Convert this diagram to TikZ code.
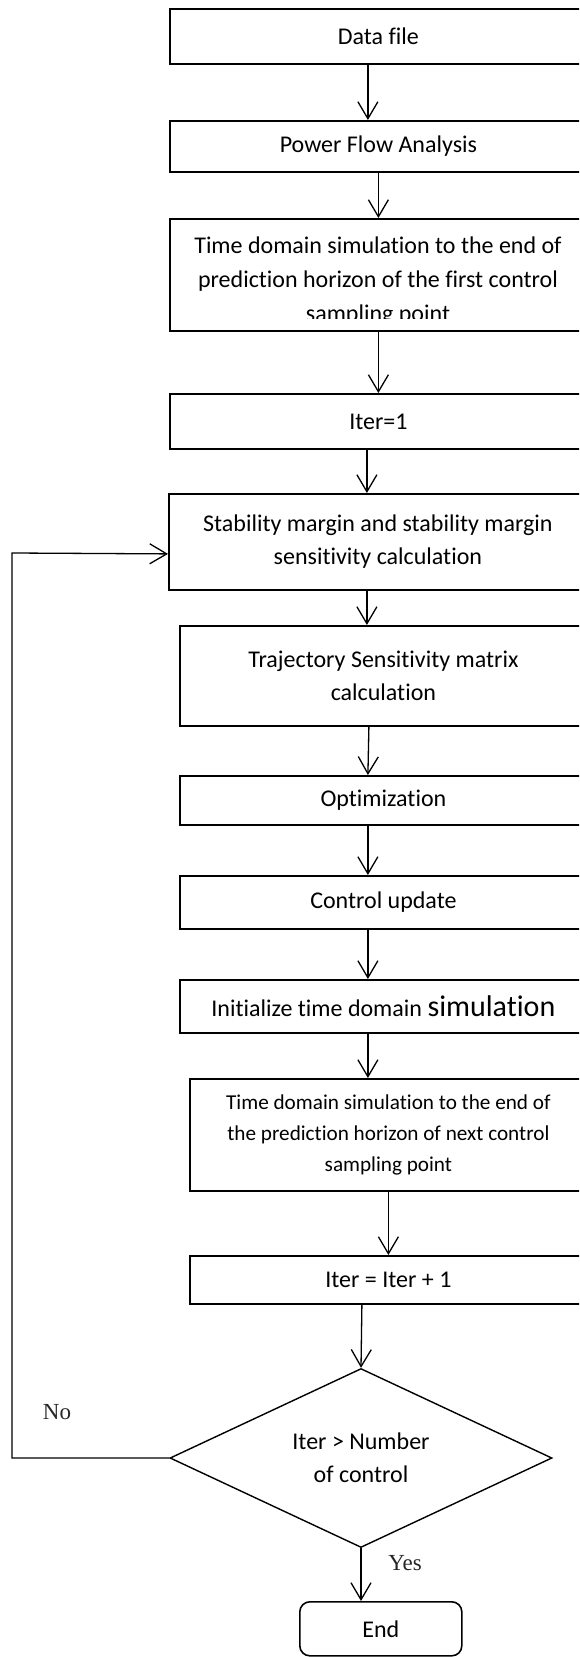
\documentclass[tikz,border=0pt]{standalone}
\usepackage{fontspec}
\setmainfont[Ligatures=CommonOff]{Carlito}
\newfontfamily\timesf{Liberation Serif}
\usetikzlibrary{arrows.meta,shapes.geometric}
\begin{document}
\begin{tikzpicture}[x=0.5pt,y=-0.5pt,
  box/.style={draw,line width=0.9pt,anchor=north west,inner sep=0pt,align=center,
    font=\fontsize{12}{16.5}\selectfont},
  txt/.style={inner sep=0pt,align=center},
  dia/.style={draw,diamond,line width=0.7pt,inner sep=0pt,aspect=2.13,
    minimum width=191pt,minimum height=89.5pt,align=center,font=\fontsize{12}{16.5}\selectfont},
  endbox/.style={draw,rounded corners=5pt,line width=0.8pt,anchor=north west,inner sep=0pt,
    minimum width=81pt,minimum height=27pt,font=\fontsize{12}{14}\selectfont},
  lab/.style={inner sep=0pt,font=\timesf\fontsize{11.5}{14}\selectfont,text=black!85},
  arr/.style={draw,line width=0.65pt,-{Straight Barb[length=8.5pt,width=10pt,line width=0.65pt]}}]
\useasboundingbox (0,0) rectangle (579,1657);
\clip (0,0) rectangle (579,1657);

\node[box,minimum width=208.5pt,minimum height=27.5pt] (data) at (169,8) {Data file};
\node[box,minimum width=208.5pt,minimum height=25.5pt] (pfa) at (169,120) {Power Flow Analysis};
\node[box,minimum width=208.5pt,minimum height=56pt] (td1) at (169,218) {};
\begin{scope}
  \clip (169,218) rectangle (590,319);
  \node[txt,font=\fontsize{12}{17}\selectfont] (td1t) at (378,281)
    {Time domain simulation to the end of\\prediction horizon of the first control\\sampling point};
\end{scope}
\node[box,minimum width=208.5pt,minimum height=27.5pt] (it1) at (169,393) {Iter=1};
\node[box,minimum width=209pt,minimum height=48pt] (stab) at (168,493)
  {Stability margin and stability margin\\sensitivity calculation};
\node[box,minimum width=203.5pt,minimum height=50pt] (traj) at (179,625)
  {Trajectory Sensitivity matrix\\calculation};
\node[box,minimum width=203.5pt,minimum height=24.5pt] (opt) at (179,775) {Optimization};
\node[box,minimum width=203.5pt,minimum height=26.5pt] (ctrl) at (179,875) {Control update};
\node[box,minimum width=203.5pt,minimum height=26.5pt] (init) at (179,979)
  {Initialize time domain {\fontsize{15}{17}\selectfont simulation}};
\node[box,minimum width=198.5pt,minimum height=56pt,font=\fontsize{10.6}{15.5}\selectfont] (td2) at (189,1078)
  {Time domain simulation to the end of\\the prediction horizon of next control\\sampling point};
\node[box,minimum width=198.5pt,minimum height=24pt] (it2) at (189,1255) {Iter = Iter + 1};
\node[dia] (dec) at (361,1458) {Iter > Number\\of control};
\node[endbox] (end) at (299,1601) {End};

\node[lab] (no) at (57,1412) {No};
\node[lab] (yes) at (405,1563) {Yes};

\draw[arr] ([xshift=-5.25pt]data.south) -- ([xshift=-5.25pt]pfa.north);
\draw[arr] (pfa.south) -- (td1.north);
\draw[arr] (td1.south) -- (it1.north);
\draw[arr] ([xshift=-5.75pt]it1.south) -- ([xshift=-5.5pt]stab.north);
\draw[arr] ([xshift=-5.5pt]stab.south) -- ([xshift=-8.25pt]traj.north);
\draw[arr] ([xshift=-7.25pt]traj.south) -- ([xshift=-7.75pt]opt.north);
\draw[arr] ([xshift=-7.75pt]opt.south) -- ([xshift=-7.75pt]ctrl.north);
\draw[arr] ([xshift=-7.75pt]ctrl.south) -- ([xshift=-7.75pt]init.north);
\draw[arr] ([xshift=-7.75pt]init.south) -- ([xshift=-10.25pt]td2.north);
\draw[arr] (td2.south) -- (it2.north);
\draw[arr] ([xshift=-13.25pt]it2.south) -- (dec.north);
\draw[arr] (dec.south) -- (dec.south |- end.north);
\coordinate (l1) at (12,1458);
\coordinate (l2) at (12,553);
\draw[arr] (dec.west) -- (l1) -- (l2) -- ([yshift=-6pt]stab.west);
\end{tikzpicture}
\end{document}
